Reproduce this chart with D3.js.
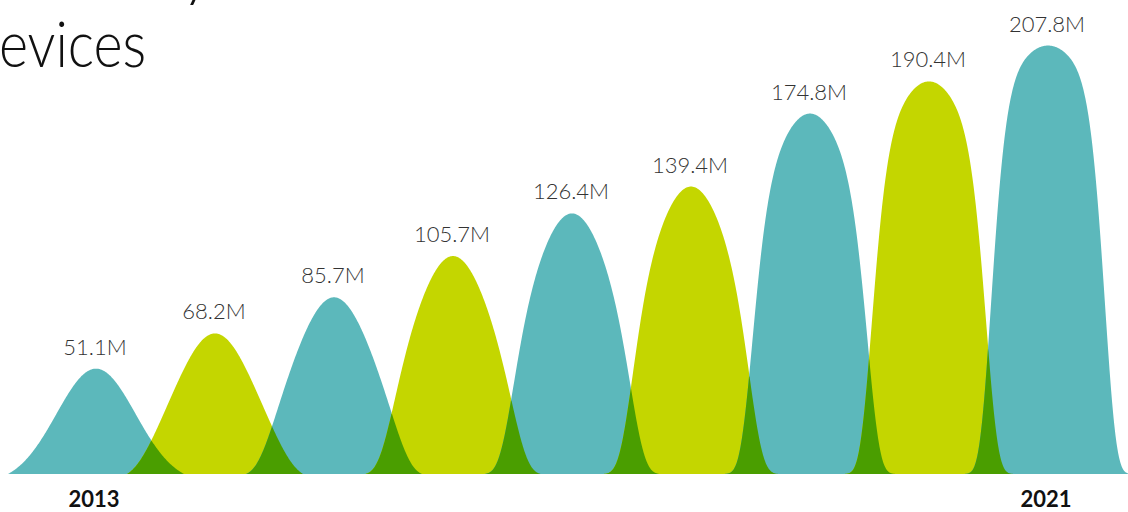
<!DOCTYPE html>
<html><head><meta charset="utf-8">
<script src="https://cdn.jsdelivr.net/npm/d3@7"></script>
<style>
html,body{margin:0;padding:0;background:#fff;}
svg{display:block;}
</style></head>
<body>
<svg id="chart" width="1128" height="512"></svg>
<script>
// ---- data ----
const years = ["2013","2014","2015","2016","2017","2018","2019","2020","2021"];
const values = [51.1, 68.2, 85.7, 105.7, 126.4, 139.4, 174.8, 190.4, 207.8];
const valueLabels = ["51.1M","68.2M","85.7M","105.7M","126.4M","139.4M","174.8M","190.4M","207.8M"];
const axisLabels = ["2013","2021"];
const titleLines = ["by","Devices"];

// ---- layout ----
const svg = d3.select("#chart");
const x = d3.scalePoint().domain(years).range([96, 1048]);
const y = d3.scaleLinear().domain([0, 210]).range([474, 41]);
const colors = ["#5cb8bb", "#c4d600"];
const overlapColor = "#4a9e00";
const halfW = 88;
const [vmin, vmax] = d3.extent(values);

// bell kernel: round dome, sides get steeper as value grows
function kernel(dx, v) {
  const t = (v - vmin) / (vmax - vmin);
  const invA2 = (1 - t) / (56 * 56) + t / (132 * 132);
  const u = r => r * r * invA2 + t * Math.pow(r / 59.8, 6.3);
  const ad = Math.abs(dx);
  if (ad >= halfW) return 0;
  const g = Math.exp(-u(ad));
  const gW = Math.exp(-u(halfW));
  return Math.max(0, (g - gW) / (1 - gW));
}

const area = d3.area().x(d => d.x).y0(y(0)).y1(d => y(d.v));

function bellPoints(i) {
  const cx = x(years[i]);
  return d3.range(-halfW, halfW + 0.25, 0.5).map(dx => ({x: cx + dx, v: values[i] * kernel(dx, values[i])}));
}

const g = svg.append("g");
years.forEach((yr, i) => {
  g.append("path").attr("d", area(bellPoints(i))).attr("fill", colors[i % 2]);
});

// overlaps between neighbours
for (let i = 0; i < years.length - 1; i++) {
  const c0 = x(years[i]), c1 = x(years[i + 1]);
  const pts = d3.range(c1 - halfW, c0 + halfW + 0.25, 0.5).map(px => ({
    x: px,
    v: Math.min(values[i] * kernel(px - c0, values[i]), values[i + 1] * kernel(px - c1, values[i + 1]))
  }));
  g.append("path").attr("d", area(pts)).attr("fill", overlapColor);
}

// value labels
svg.append("g").selectAll("text").data(values).join("text")
  .attr("x", (d, i) => x(years[i]) - 1)
  .attr("y", d => y(d) - 14)
  .attr("text-anchor", "middle")
  .attr("font-family", "Lato, 'Open Sans', sans-serif")
  .attr("font-weight", 300)
  .attr("font-size", 22)
  .attr("fill", "#333")
  .text((d, i) => valueLabels[i]);

// year labels
svg.append("g").selectAll("text").data(axisLabels).join("text")
  .attr("x", d => x(d) - 2)
  .attr("y", 507)
  .attr("text-anchor", "middle")
  .attr("font-family", "Lato, 'Open Sans', sans-serif")
  .attr("font-weight", 700)
  .attr("font-size", 22)
  .attr("fill", "#111")
  .text(d => d);

// title (cropped in the reference)
const title = svg.append("g").attr("font-family", "Lato, 'Open Sans', sans-serif")
  .attr("font-weight", 300).attr("fill", "#111");
title.append("text").attr("x", 213).attr("y", -6).attr("text-anchor", "end")
  .attr("font-size", 64).text(titleLines[0]);
const sx = 0.87;
const t2 = title.append("text").attr("x", 0).attr("y", 67).attr("font-size", 64).text(titleLines[1]);
const dW = t2.node().getSubStringLength(0, 1);
t2.attr("transform", `translate(${-dW * sx - 1},0) scale(${sx},1)`);
</script>
</body></html>
